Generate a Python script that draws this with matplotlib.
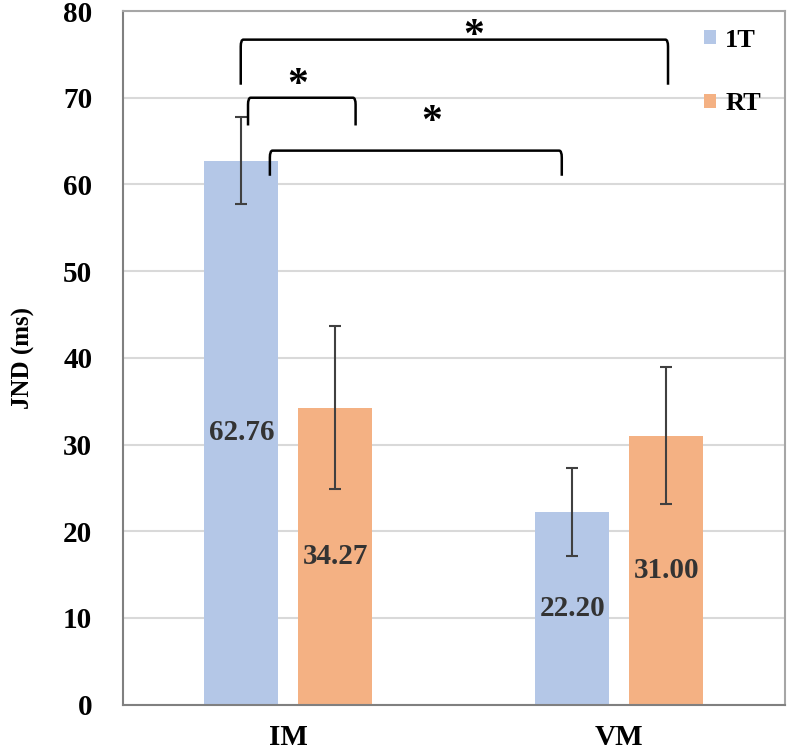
import matplotlib.pyplot as plt
import numpy as np
from matplotlib.path import Path
from matplotlib.patches import PathPatch

plt.rcParams["font.family"] = ["Liberation Serif", "DejaVu Serif"]
plt.rcParams["font.weight"] = "bold"

categories = ["IM", "VM"]
series_names = ["1T", "RT"]
values_1t = [62.76, 22.20]
values_rt = [34.27, 31.00]
err_1t = [5.0, 5.05]
err_rt = [9.35, 7.9]
y_ticks = [0, 10, 20, 30, 40, 50, 60, 70, 80]

# significance brackets: x left, x right, y top, y bottom (data units)
brackets = [
    (-0.144, 1.147, 76.7, 71.5),
    (-0.122, 0.203, 70.0, 66.8),
    (-0.056, 0.826, 63.9, 61.0),
]
stars = [(0.56, 77.0), (0.028, 71.3), (0.433, 67.1)]

blue = "#B4C7E7"
orange = "#F4B183"

fig = plt.figure(figsize=(7.88, 7.5), dpi=100)
ax = fig.add_axes([0.156, 0.0604, 0.84, 0.9249])

x = np.arange(len(categories))
width = 0.224
offset = 0.142

bars1 = ax.bar(x - offset, values_1t, width, color=blue, label=series_names[0], zorder=2)
bars2 = ax.bar(x + offset, values_rt, width, color=orange, label=series_names[1], zorder=2)

ax.errorbar(x - offset, values_1t, yerr=err_1t, fmt="none", ecolor="#404040",
            elinewidth=1.5, capsize=4.5, capthick=1.5, zorder=3)
ax.errorbar(x + offset, values_rt, yerr=err_rt, fmt="none", ecolor="#404040",
            elinewidth=1.5, capsize=4.5, capthick=1.5, zorder=3)

for bars, vals in [(bars1, values_1t), (bars2, values_rt)]:
    for b, v in zip(bars, vals):
        ax.text(b.get_x() + b.get_width() / 2, v / 2, f"{v:.2f}",
                ha="center", va="center", fontsize=21, fontweight="bold",
                color="#333333", zorder=4)

for xl, xr, yt, yb in brackets:
    r = 0.008
    ry = 0.8
    verts = [(xl, yb), (xl, yt - ry), (xl, yt), (xl + r, yt),
             (xr - r, yt), (xr, yt), (xr, yt - ry), (xr, yb)]
    codes = [Path.MOVETO, Path.LINETO, Path.CURVE3, Path.CURVE3,
             Path.LINETO, Path.CURVE3, Path.CURVE3, Path.LINETO]
    ax.add_patch(PathPatch(Path(verts, codes), fill=False, edgecolor="black",
                           linewidth=1.8, zorder=5))

for sx, sy in stars:
    ax.text(sx, sy, "*", ha="center", va="center", fontsize=30,
            fontweight="bold", color="black", zorder=5)

ax.set_xlim(-0.5, 1.5)
ax.set_ylim(0, 80)
ax.set_yticks(y_ticks)
ax.set_xticks(x)
ax.set_xticklabels(categories)
ax.tick_params(axis="both", length=0, labelsize=21)
ax.tick_params(axis="y", pad=22)
ax.tick_params(axis="x", pad=14)
ax.yaxis.grid(True, color="#D9D9D9", linewidth=1.5, zorder=0)
ax.set_axisbelow(True)
ax.set_ylabel("JND (ms)", fontsize=18, fontweight="bold", labelpad=20)

for side in ["left", "bottom"]:
    ax.spines[side].set_color("#808080")
    ax.spines[side].set_linewidth(1.5)
for side in ["top", "right"]:
    ax.spines[side].set_color("#A6A6A6")
    ax.spines[side].set_linewidth(1.5)

ax.legend(loc="upper left", bbox_to_anchor=(0.862, 0.99), frameon=False,
          fontsize=19, handlelength=0.45, handleheight=0.45, handletextpad=0.35,
          labelspacing=1.55, borderaxespad=0.0)

fig.savefig("out.png", dpi=100)
